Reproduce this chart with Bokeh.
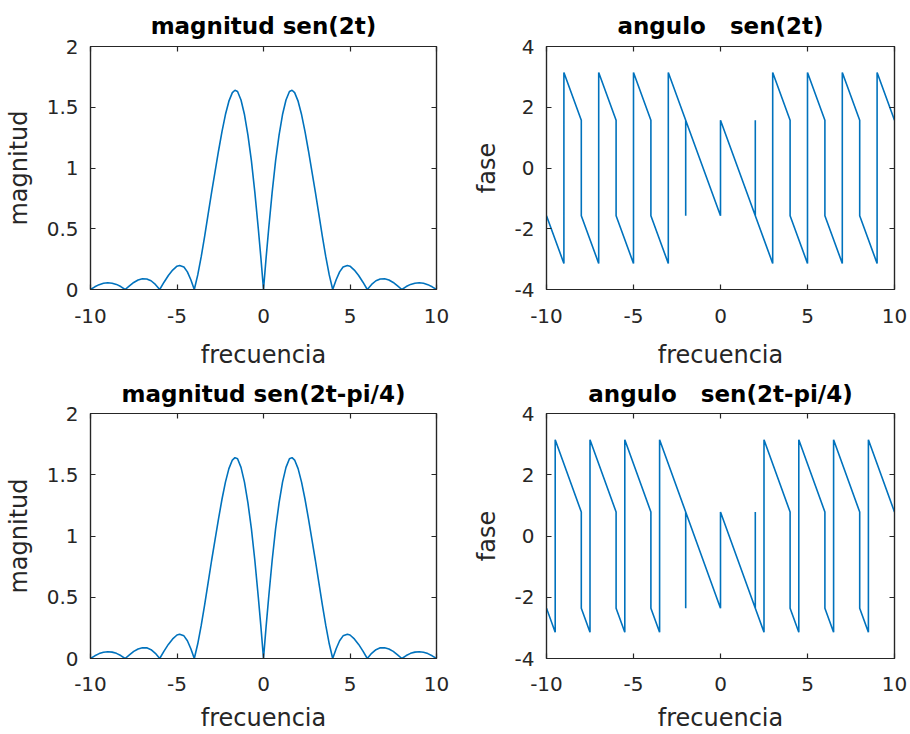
from bokeh.plotting import figure
from bokeh.models import Range1d, LinearAxis, FixedTicker, CustomJSTickFormatter
from bokeh.layouts import gridplot
from bokeh.embed import file_html
from bokeh.resources import INLINE

# ---- data ----
freq_mag = [-10, -9.75, -9.5, -9.25, -9.0, -8.75, -8.5, -8.25, -8.0,
            -7.75, -7.5, -7.25, -7.0, -6.75, -6.5, -6.25, -6.0,
            -5.75, -5.5, -5.25, -5.0, -4.85, -4.6, -4.4, -4.2, -4.0,
            -3.8, -3.6, -3.4, -3.2, -3.0, -2.8, -2.6, -2.4, -2.2, -2.0,
            -1.8, -1.65, -1.5, -1.3, -1.1, -0.9, -0.7, -0.5, -0.3, -0.15, 0.0,
            0.15, 0.3, 0.5, 0.7, 0.9, 1.1, 1.3, 1.5, 1.65, 1.8,
            2.0, 2.2, 2.4, 2.6, 2.8, 3.0, 3.2, 3.4, 3.6, 3.8,
            4.0, 4.2, 4.4, 4.6, 4.85, 5.0, 5.25, 5.5, 5.75, 6.0,
            6.25, 6.5, 6.75, 7.0, 7.25, 7.5, 7.75, 8.0,
            8.25, 8.5, 8.75, 9.0, 9.25, 9.5, 9.75, 10]
mag_sen2t = [0.0, 0.022, 0.040, 0.051, 0.055, 0.052, 0.042, 0.024, 0.0,
             0.030, 0.058, 0.078, 0.088, 0.087, 0.072, 0.042, 0.0,
             0.06, 0.115, 0.16, 0.192, 0.198, 0.185, 0.145, 0.08, 0.0,
             0.12, 0.27, 0.44, 0.62, 0.80, 0.97, 1.14, 1.30, 1.44, 1.55,
             1.62, 1.64, 1.63, 1.56, 1.44, 1.27, 1.06, 0.80, 0.50, 0.26, 0.0,
             0.26, 0.50, 0.80, 1.06, 1.27, 1.44, 1.56, 1.63, 1.64, 1.62,
             1.55, 1.44, 1.30, 1.14, 0.97, 0.80, 0.62, 0.44, 0.27, 0.12,
             0.0, 0.08, 0.145, 0.185, 0.198, 0.192, 0.16, 0.115, 0.06, 0.0,
             0.042, 0.072, 0.087, 0.088, 0.078, 0.058, 0.030, 0.0,
             0.024, 0.042, 0.052, 0.055, 0.051, 0.040, 0.022, 0.0]
mag_sen2t_pi4 = [0.0, 0.022, 0.040, 0.051, 0.055, 0.052, 0.042, 0.024, 0.0,
                 0.030, 0.058, 0.078, 0.088, 0.087, 0.072, 0.042, 0.0,
                 0.06, 0.115, 0.16, 0.192, 0.198, 0.185, 0.145, 0.08, 0.0,
                 0.12, 0.27, 0.44, 0.62, 0.80, 0.97, 1.14, 1.30, 1.44, 1.55,
                 1.62, 1.64, 1.63, 1.56, 1.44, 1.27, 1.06, 0.80, 0.50, 0.26, 0.0,
                 0.26, 0.50, 0.80, 1.06, 1.27, 1.44, 1.56, 1.63, 1.64, 1.62,
                 1.55, 1.44, 1.30, 1.14, 0.97, 0.80, 0.62, 0.44, 0.27, 0.12,
                 0.0, 0.08, 0.145, 0.185, 0.198, 0.192, 0.16, 0.115, 0.06, 0.0,
                 0.042, 0.072, 0.087, 0.088, 0.078, 0.058, 0.030, 0.0,
                 0.024, 0.042, 0.052, 0.055, 0.051, 0.040, 0.022, 0.0]

freq_phase1 = [-10, -9, -9, -8, -8, -7, -7, -6, -6, -5, -5, -4, -4, -3, -3,
               -2, -2, -2, 0, 0, 2, 2, 2, 3, 3, 4, 4, 5, 5, 6, 6, 7, 7,
               8, 8, 9, 9, 10]
phase_sen2t = [-1.571, -3.142, 3.142, 1.571, -1.571, -3.142, 3.142, 1.571,
               -1.571, -3.142, 3.142, 1.571, -1.571, -3.142, 3.142,
               1.571, -1.571, 1.571, -1.571, 1.571, -1.571, 1.571, -1.571,
               -3.142, 3.142, 1.571, -1.571, -3.142, 3.142, 1.571, -1.571,
               -3.142, 3.142, 1.571, -1.571, -3.142, 3.142, 1.571]

freq_phase2 = [-10, -9.5, -9.5, -8, -8, -7.5, -7.5, -6, -6, -5.5, -5.5, -4, -4,
               -3.5, -3.5, -2, -2, -2, 0, 0, 2, 2, 2, 2.5, 2.5, 4, 4, 4.5, 4.5,
               6, 6, 6.5, 6.5, 8, 8, 8.5, 8.5, 10]
phase_sen2t_pi4 = [-2.356, -3.142, 3.142, 0.785, -2.356, -3.142, 3.142, 0.785,
                   -2.356, -3.142, 3.142, 0.785, -2.356, -3.142, 3.142,
                   0.785, -2.356, 0.785, -2.356, 0.785, -2.356, 0.785, -2.356,
                   -3.142, 3.142, 0.785, -2.356, -3.142, 3.142, 0.785, -2.356,
                   -3.142, 3.142, 0.785, -2.356, -3.142, 3.142, 0.785]

x_ticks = [-10, -5, 0, 5, 10]
mag_ticks = [0, 0.5, 1, 1.5, 2]
phase_ticks = [-4, -2, 0, 2, 4]

titles = ["magnitud sen(2t)", "angulo \u00a0 sen(2t)",
          "magnitud sen(2t-pi/4)", "angulo \u00a0 sen(2t-pi/4)"]

AX = "#262626"
LINE = "#0072BD"
FONT = "DejaVu Sans"


def style_axis(ax, labels=True):
    ax.axis_line_color = AX
    ax.axis_line_width = 1.2
    ax.major_tick_line_color = AX
    ax.major_tick_line_width = 1.2
    ax.major_tick_in = 5
    ax.major_tick_out = 0
    ax.minor_tick_line_color = None
    ax.major_label_text_font = FONT
    if labels:
        ax.major_label_text_color = AX
        ax.major_label_text_font_size = "20px"
        ax.formatter = CustomJSTickFormatter(code="return tick.toString();")
    else:
        ax.major_label_text_color = None
        ax.major_label_text_font_size = "1px"
        ax.major_label_standoff = 0


def make(title, ylabel, xs, ys, yr, yticks, w, h, ml, mr, mt, mb,
         title_so, tick_so, label_so):
    p = figure(width=w, height=h, x_range=Range1d(-10, 10),
               y_range=Range1d(yr[0], yr[1]), output_backend="svg",
               toolbar_location=None, min_border_left=ml, min_border_right=mr,
               min_border_top=mt, min_border_bottom=mb, title=title)
    p.line(xs, ys, line_color=LINE, line_width=1.6)
    p.grid.visible = False
    p.outline_line_color = AX
    p.outline_line_width = 1.2
    p.background_fill_color = "white"
    p.border_fill_color = "white"

    p.title.text_font = FONT
    p.title.text_font_size = "23px"
    p.title.text_font_style = "bold"
    p.title.text_color = "black"
    p.title.align = "center"
    p.title.standoff = title_so

    xa = p.xaxis[0]
    xa.ticker = FixedTicker(ticks=x_ticks)
    style_axis(xa)
    xa.major_label_standoff = tick_so
    xa.axis_label = "frecuencia"
    ya = p.yaxis[0]
    ya.ticker = FixedTicker(ticks=yticks)
    style_axis(ya)
    ya.major_label_standoff = 12
    ya.axis_label = ylabel
    for a in (xa, ya):
        a.axis_label_text_font = FONT
        a.axis_label_text_font_size = "24px"
        a.axis_label_text_font_style = "normal"
        a.axis_label_text_color = AX
    xa.axis_label_standoff = label_so
    ya.axis_label_standoff = 11

    ra = LinearAxis(ticker=FixedTicker(ticks=yticks))
    style_axis(ra, labels=False)
    p.add_layout(ra, "right")
    ta = LinearAxis(ticker=FixedTicker(ticks=x_ticks))
    style_axis(ta, labels=False)
    p.add_layout(ta, "above")
    return p


p1 = make(titles[0], "magnitud", freq_mag, mag_sen2t, (0, 2), mag_ticks,
          455, 371, 90, 19, 46, 81, 15, 19, 15)
p2 = make(titles[1], "fase", freq_phase1, phase_sen2t, (-4, 4), phase_ticks,
          455, 371, 91, 16, 46, 81, 15, 19, 15)
p3 = make(titles[2], "magnitud", freq_mag, mag_sen2t_pi4, (0, 2), mag_ticks,
          455, 363, 90, 19, 42, 76, 13, 18, 10)
p4 = make(titles[3], "fase", freq_phase2, phase_sen2t_pi4, (-4, 4), phase_ticks,
          455, 363, 91, 16, 42, 76, 13, 18, 10)

grid = gridplot([[p1, p2], [p3, p4]], toolbar_location=None)

open("out.html", "w").write(file_html(grid, INLINE))
